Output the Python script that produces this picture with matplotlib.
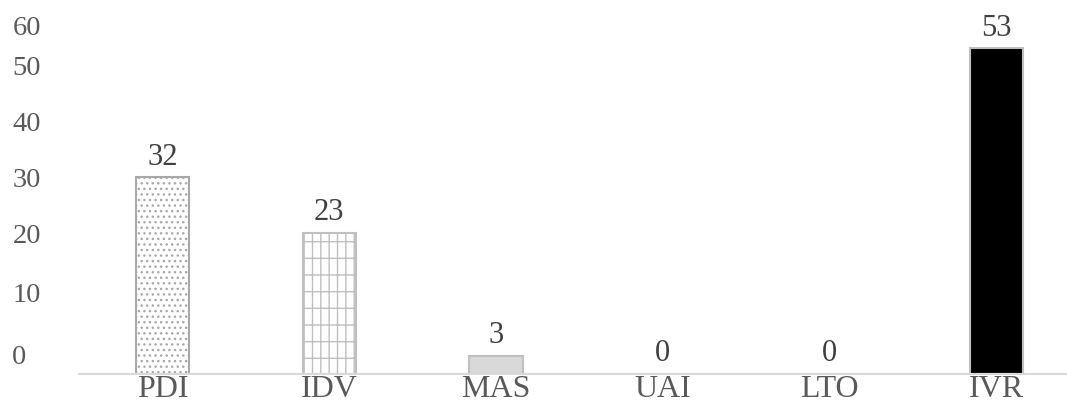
import matplotlib.pyplot as plt
import numpy as np

# Dimension scores
dimensions = ["PDI", "IDV", "MAS", "UAI", "LTO", "IVR"]
scores = [32, 23, 3, 0, 0, 53]

# y-axis labels and where they sit on the value scale
ytick_labels = ["0", "10", "20", "30", "40", "50", "60"]
ytick_pos = [3.1, 13.3, 22.9, 32.0, 41.0, 50.2, 56.7]

plt.rcParams['font.family'] = ['Liberation Serif', 'DejaVu Serif']

fig = plt.figure(figsize=(10.67, 4.03), dpi=100)
ax = fig.add_axes([79 / 1067, 29 / 403, 1001 / 1067, 372 / 403])

fills = ['white', 'white', '#d9d9d9', '#d9d9d9', '#d9d9d9', 'black']
hatches = ['...', '+|', None, None, None, None]
edge = '#bfbfbf'

x = np.arange(len(dimensions))
bars = ax.bar(x, scores, width=0.32, color=fills, edgecolor=edge, linewidth=1.5, zorder=2)
for b, h in zip(bars, hatches):
    if h:
        b.set_hatch(h)
bars[0].set_edgecolor('#a8a8a8')

# value labels above bars
for xi, v in zip(x, scores):
    ax.text(xi, v + 0.9, f"{v}", ha='center', va='bottom', fontsize=22, color='#404040')

ax.set_xlim(-0.5, 5.5)
ax.set_ylim(0, 60.5)
ax.set_xticks(x)
ax.set_xticklabels(dimensions, fontsize=23, color='#595959')
ax.set_yticks(ytick_pos)
ax.set_yticklabels(ytick_labels, fontsize=20.5, color='#595959')
ax.tick_params(axis='both', length=0)
ax.tick_params(axis='x', pad=1)
ax.tick_params(axis='y', pad=48)
for lbl in ax.get_yticklabels():
    lbl.set_horizontalalignment('left')

for s in ['top', 'right', 'left']:
    ax.spines[s].set_visible(False)
ax.spines['bottom'].set_color('#d9d9d9')
ax.spines['bottom'].set_linewidth(1.5)

fig.savefig('out.png', dpi=100)
